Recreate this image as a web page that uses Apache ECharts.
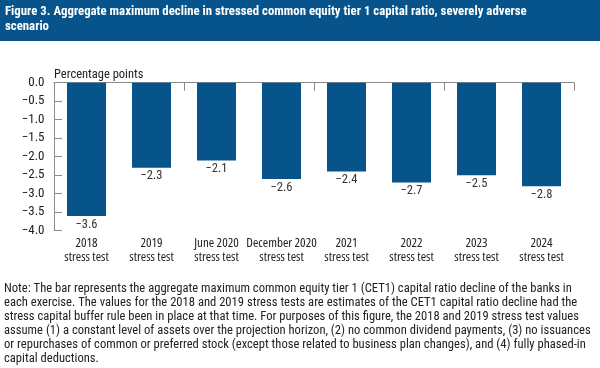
<!DOCTYPE html>
<html><head><meta charset="utf-8">
<script src="https://cdn.jsdelivr.net/npm/echarts@6/dist/echarts.min.js"></script>
<style>html,body{margin:0;padding:0;background:#fff}#c{width:600px;height:368px}</style>
</head><body><div id="c"></div>
<script>
const categories = ['2018\nstress test','2019\nstress test','June 2020\nstress test','December 2020\nstress test','2021\nstress test','2022\nstress test','2023\nstress test','2024\nstress test'];
const values = [-3.6,-2.3,-2.1,-2.6,-2.4,-2.7,-2.5,-2.8];
const titleLines = ['Figure 3. Aggregate maximum decline in stressed common equity tier 1 capital ratio, severely adverse','scenario'];
const noteLines = [
'Note: The bar represents the aggregate maximum common equity tier 1 (CET1) capital ratio decline of the banks in',
'each exercise. The values for the 2018 and 2019 stress tests are estimates of the CET1 capital ratio decline had the',
'stress capital buffer rule been in place at that time. For purposes of this figure, the 2018 and 2019 stress test values',
'assume (1) a constant level of assets over the projection horizon, (2) no common dividend payments, (3) no issuances',
'or repurchases of common or preferred stock (except those related to business plan changes), and (4) fully phased-in',
'capital deductions.'];
const unitLabel = 'Percentage points';
const FONT = '"Roboto Condensed"';
const fmt = v => (v < 0 ? '\u2212' : '') + Math.abs(v).toFixed(1);
const chart = echarts.init(document.getElementById('c'), null, {renderer:'canvas'});
chart.setOption({
  animation:false,
  textStyle:{fontFamily:'Roboto Condensed'},
  grid:{left:54,right:26,top:82.7,bottom:137.3},
  xAxis:[{
    type:'category', data:categories, position:'top',
    axisLine:{show:true,onZero:false,lineStyle:{color:'#8a8a8a',width:1}},
    axisTick:{show:true,inside:true,length:8,lineStyle:{color:'#8a8a8a'}},
    axisLabel:{show:false}
  },{
    type:'category', data:categories, position:'bottom',
    axisLine:{show:false}, axisTick:{show:false},
    axisLabel:{show:true,fontFamily:'"Open Sans"',fontWeight:'condensed',fontSize:13,color:'#222',lineHeight:13.5,margin:6,interval:0}
  }],
  yAxis:{
    type:'value', min:-4, max:0, interval:0.5,
    axisLine:{show:true,lineStyle:{color:'#8a8a8a'}},
    axisTick:{show:true,inside:true,length:8,lineStyle:{color:'#8a8a8a'}},
    splitLine:{show:false},
    axisLabel:{fontFamily:'Roboto Condensed',fontSize:13,color:'#222',margin:9.5,formatter:fmt}
  },
  series:[{
    type:'bar', data:values, xAxisIndex:0, barWidth:39,
    itemStyle:{color:'#07548b'},
    label:{show:true,position:'bottom',distance:2,fontFamily:'Roboto Condensed',fontSize:12.5,color:'#333',formatter:p=>fmt(p.value)}
  }],
  graphic:[
    {type:'rect',left:0,top:0,shape:{width:600,height:41},style:{fill:'#06548b'}},
    {type:'text',left:5,top:5,style:{text:titleLines.join('\n'),fill:'#fff',font:'bold 12.8px '+FONT,lineHeight:14.5}},
    {type:'text',left:54,top:68,style:{text:unitLabel,fill:'#222',font:'12.5px '+FONT}},
    {type:'text',left:4,top:282,style:{text:noteLines.join('\n'),fill:'#222',font:'12.6px '+FONT,lineHeight:14}}
  ]
});
</script></body></html>
